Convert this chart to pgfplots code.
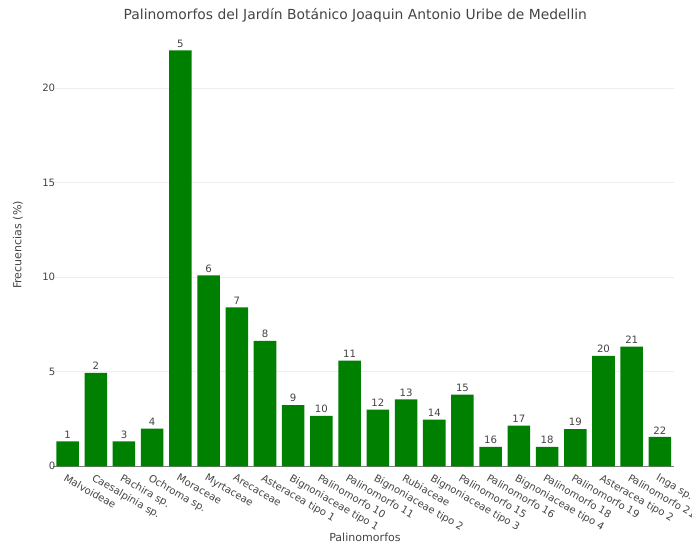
\documentclass[border=0pt]{standalone}
\usepackage{pgfplots}
\pgfplotsset{compat=1.18}
\usepackage{pgfplotstable}
\usepackage{fontspec}
\setmainfont{DejaVu Sans}
\definecolor{txt}{HTML}{444444}
\definecolor{barc}{HTML}{008000}
\definecolor{gridc}{HTML}{EEEEEE}

\pgfplotstableread{
x y lab
0 1.32 1
1 4.94 2
2 1.32 3
3 1.99 4
4 22.0 5
5 10.10 6
6 8.41 7
7 6.63 8
8 3.24 9
9 2.66 10
10 5.59 11
11 3.00 12
12 3.54 13
13 2.47 14
14 3.79 15
15 1.02 16
16 2.15 17
17 1.02 18
18 1.97 19
19 5.84 20
20 6.33 21
21 1.55 22
}\datatable

\begin{document}
\begin{tikzpicture}
\useasboundingbox (-40.1pt,-59.8pt) rectangle (478.9pt,349.7pt);
\begin{axis}[
  at={(0pt,0pt)}, anchor=south west,
  scale only axis, width=465.4pt, height=328.7pt,
  xmin=-0.5, xmax=21.5, ymin=0, ymax=23.19,
  axis x line*=bottom, axis y line*=left,
  x axis line style={draw=txt!70, line width=0.6pt, -},
  y axis line style={draw=none},
  tick style={draw=none},
  ymajorgrids, grid style={draw=gridc, line width=0.75pt},
  ytick={0,5,10,15,20},
  xtick={0,...,21},
  xticklabels={Malvoideae, Caesalpinia sp., Pachira sp., Ochroma sp., Moraceae, Myrtaceae, Arecaceae, Asteracea tipo 1, Bignoniaceae tipo 1, Palinomorfo 10, Palinomorfo 11, Bignoniaceae tipo 2, Rubiaceae, Bignoniaceae tipo 3, Palinomorfo 15, Palinomorfo 16, Bignoniaceae tipo 4, Palinomorfo 18, Palinomorfo 19, Asteracea tipo 2, Palinomorfo 21, Inga sp.},
  /pgf/number format/assume math mode=true,
  ticklabel style={font=\fontsize{7.6}{9}\selectfont, text=txt},
  xticklabel style={rotate=-30, anchor=north west, inner sep=1pt, xshift=-1pt, yshift=0pt},
  yticklabel style={inner sep=1pt, xshift=2.5pt},
  every axis title/.style={at={(axis description cs:0.4864,1)}, anchor=center, yshift=9.8pt, font=\fontsize{10.4}{12}\selectfont, text=txt},
  title={Palinomorfos del Jardín Botánico Joaquin Antonio Uribe de Medellin},
  every axis x label/.style={at={(axis description cs:0.502,0)}, anchor=center, yshift=-53pt, font=\fontsize{8.3}{10}\selectfont, text=txt},
  xlabel={Palinomorfos},
  every axis y label/.style={at={(axis description cs:-0.0572,0.505)}, anchor=center, rotate=90, font=\fontsize{8.3}{10}\selectfont, text=txt},
  ylabel={Frecuencias (\%)},
  ybar, bar width=16.9pt,
  nodes near coords,
  point meta=explicit symbolic,
  nodes near coords style={font=\fontsize{7.6}{9}\selectfont, text=txt, anchor=south, inner sep=2pt},
  clip=false,
]
\addplot[fill=barc, draw=none] table[x=x, y=y, meta=lab] {\datatable};
\end{axis}
\end{tikzpicture}
\end{document}
